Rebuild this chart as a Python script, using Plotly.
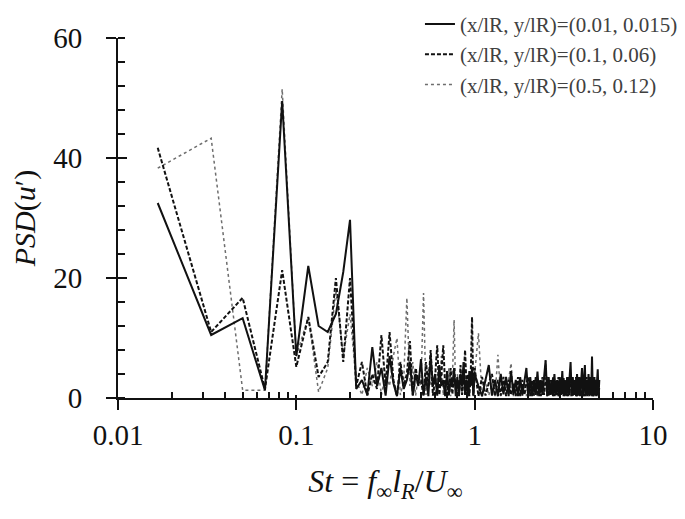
import plotly.graph_objects as go

# Strouhal number bins (St = f * lR / U)
st = [
    0.0167, 0.0333, 0.05, 0.0667, 0.0833, 0.1, 0.1167, 0.1333, 0.15, 0.1667,
    0.1833, 0.2, 0.2167, 0.2333, 0.25, 0.2667, 0.2833, 0.3, 0.3167, 0.3333,
    0.35, 0.3667, 0.3833, 0.4, 0.4167, 0.4333, 0.45, 0.4667, 0.4833, 0.5,
    0.5167, 0.5333, 0.55, 0.5667, 0.5833, 0.6, 0.6167, 0.6333, 0.65, 0.6667,
    0.6833, 0.7, 0.7167, 0.7333, 0.75, 0.7667, 0.7833, 0.8, 0.8167, 0.8333,
    0.85, 0.8667, 0.8833, 0.9, 0.9167, 0.9333, 0.95, 0.9667, 0.9833, 1.0,
    1.05, 1.1, 1.15, 1.2, 1.25, 1.3, 1.35, 1.4, 1.45, 1.5,
    1.55, 1.6, 1.65, 1.7, 1.75, 1.8, 1.85, 1.9, 1.95, 2.0,
    2.05, 2.1, 2.15, 2.2, 2.25, 2.3, 2.35, 2.4, 2.45, 2.5,
    2.55, 2.6, 2.65, 2.7, 2.75, 2.8, 2.85, 2.9, 2.95, 3.0,
    3.05, 3.1, 3.15, 3.2, 3.25, 3.3, 3.35, 3.4, 3.45, 3.5,
    3.55, 3.6, 3.65, 3.7, 3.75, 3.8, 3.85, 3.9, 3.95, 4.0,
    4.05, 4.1, 4.15, 4.2, 4.25, 4.3, 4.35, 4.4, 4.45, 4.5,
    4.55, 4.6, 4.65, 4.7, 4.75, 4.8, 4.85, 4.9, 4.95, 5.0,
]

# PSD(u') at (x/lR, y/lR) = (0.01, 0.015)
psd_a = [
    32.5, 10.5, 13.3, 1.3, 49.5, 7, 22, 12, 11, 14,
    21, 29.7, 1.5, 3, 0.5, 8.5, 2, 5, 0.4, 7,
    2.5, 0.3, 5, 1.5, 3, 6, 0.4, 4, 2, 6.5,
    0.5, 3.5, 0.3, 7, 2, 4, 0.4, 5.5, 2, 3,
    0.3, 4.5, 0.6, 3, 2, 5, 0.3, 3.5, 0.6, 4,
    2, 6, 0.5, 3, 0.3, 4.5, 2, 5, 0.4, 4,
    2, 0.3, 3, 5.5, 0.4, 3, 0.3, 4, 0.6, 3.5,
    0.3, 4.5, 0.5, 3, 0.3, 3.5, 0.4, 3, 5, 0.3,
    3.5, 0.3, 3, 0.5, 4.4, 0.3, 3, 0.5, 3.5, 6.3,
    0.3, 3.5, 0.5, 3, 0.3, 4, 0.5, 3, 0.3, 3.5,
    0.5, 4.5, 0.3, 3, 0.5, 3.5, 0.3, 3, 6, 0.3,
    3.5, 0.5, 3, 0.3, 4, 0.5, 3.5, 0.3, 3, 5,
    0.3, 3.5, 5.5, 0.3, 3, 0.5, 4, 0.3, 3.5, 0.5,
    6.9, 0.3, 3.5, 0.5, 3, 0.3, 3.5, 4.8, 0.5, 3,
]

# PSD(u') at (x/lR, y/lR) = (0.1, 0.06)
psd_b = [
    41.7, 11, 16.7, 1.5, 21.3, 5.2, 13.5, 3.5, 6, 20,
    6, 20, 2, 6, 0.4, 4, 1.5, 10.5, 2, 11,
    3, 0.3, 6, 2, 4, 9.5, 0.5, 5, 2.5, 3,
    0.3, 6, 2, 8, 0.4, 3.5, 8.8, 0.5, 4, 8.8,
    2, 3, 0.3, 5, 0.6, 4, 2, 3, 0.3, 5.5,
    0.5, 3, 8, 2, 4, 0.3, 3.5, 13.5, 0.5, 5,
    0.3, 3.5, 0.4, 2.5, 4, 0.3, 3, 0.4, 3.5, 0.3,
    3, 0.5, 2.5, 0.3, 3.5, 0.3, 3, 0.5, 2.5, 3.5,
    0.3, 3, 0.4, 3.5, 0.3, 3, 0.3, 3.5, 0.5, 3,
    3.5, 0.3, 3, 0.5, 3.5, 0.3, 3, 0.5, 3.5, 0.3,
    3, 0.5, 3.5, 0.3, 3, 0.3, 3.5, 0.5, 3, 3.5,
    0.3, 3, 0.5, 3.5, 0.3, 3, 0.3, 3.5, 0.5, 3,
    3.5, 0.3, 3, 0.5, 3.5, 0.3, 3, 0.5, 3, 3.5,
    0.3, 3, 0.3, 3.5, 0.5, 3, 0.3, 3.5, 0.3, 2,
]

# PSD(u') at (x/lR, y/lR) = (0.5, 0.12)
psd_c = [
    38.3, 43.3, 1.3, 1.3, 51.5, 7, 13.5, 1, 5, 18,
    7, 14, 3, 0.5, 5, 2, 6, 0.5, 4, 2,
    7, 10, 0.5, 3, 16.7, 2, 6, 0.4, 4, 2,
    17.5, 0.5, 5, 2, 3, 0.3, 4, 2.5, 7, 0.4,
    3, 0.5, 5, 0.3, 3, 13, 0.5, 4, 2, 3,
    0.3, 6, 2, 3.5, 0.4, 4, 2, 3, 0.3, 4,
    10.8, 0.3, 3, 0.4, 2.5, 0.3, 7.2, 0.3, 2.5, 0.5,
    3, 5.8, 0.3, 2.5, 0.4, 3, 0.5, 2.5, 0.3, 3,
    0.3, 2.5, 0.5, 3, 0.3, 2.5, 0.4, 3, 0.5, 6.3,
    0.3, 2.5, 0.4, 3, 0.5, 2.5, 0.3, 3, 0.3, 2.5,
    0.5, 3, 0.3, 2.5, 0.4, 3, 0.5, 2.5, 0.3, 3,
    0.3, 2.5, 0.5, 3, 0.3, 2.5, 0.4, 3, 0.5, 2.5,
    0.3, 3, 0.3, 2.5, 0.5, 3, 0.3, 2.5, 0.4, 3,
    0.5, 2.5, 0.3, 3, 0.3, 2.5, 0.5, 3, 0.3, 2.5,
]

series_names = [
    "(x/lR, y/lR)=(0.01, 0.015)",
    "(x/lR, y/lR)=(0.1, 0.06)",
    "(x/lR, y/lR)=(0.5, 0.12)",
]

x_major = [0.01, 0.1, 1, 10]
x_major_text = ["0.01", "0.1", "1", "10"]
x_minor = [0.02, 0.03, 0.04, 0.05, 0.06, 0.07, 0.08, 0.09,
           0.2, 0.3, 0.4, 0.5, 0.6, 0.7, 0.8, 0.9,
           2, 3, 4, 5, 6, 7, 8, 9]
y_major = [0, 20, 40, 60]

SERIF = "Liberation Serif, Times New Roman, serif"
INK = "#111111"

fig = go.Figure()

# drawn back to front: dotted, dashed, solid (legend order reversed below)
fig.add_trace(go.Scatter(
    x=st, y=psd_c, name=series_names[2], mode="lines",
    line=dict(color="#6e6e6e", width=1.5, dash="dot"),
))
fig.add_trace(go.Scatter(
    x=st, y=psd_b, name=series_names[1], mode="lines",
    line=dict(color=INK, width=2, dash="4px,2px"),
))
fig.add_trace(go.Scatter(
    x=st, y=psd_a, name=series_names[0], mode="lines",
    line=dict(color=INK, width=2),
))
# empty trace so the overlay axes (inner half of crossing ticks) get drawn
fig.add_trace(go.Scatter(x=[], y=[], xaxis="x2", yaxis="y2", showlegend=False))

# page body has an 8px margin, so the figure is 8px smaller than the window
fig.update_layout(
    width=677,
    height=511,
    margin=dict(l=110, r=32, t=30, b=121, autoexpand=False),
    paper_bgcolor="white",
    plot_bgcolor="white",
    font=dict(family=SERIF, color=INK),
    legend=dict(
        x=1.056, y=1.095, xanchor="right", yanchor="top",
        bgcolor="rgba(0,0,0,0)", traceorder="reversed",
        font=dict(family=SERIF, size=21, color="#404040"),
        tracegroupgap=0,
    ),
    xaxis=dict(
        type="log", range=[-2, 1],
        tickvals=x_major, ticktext=x_major_text,
        ticks="outside", ticklen=10, tickwidth=2, tickcolor=INK,
        minor=dict(tickvals=x_minor, ticks="inside", ticklen=6,
                   tickwidth=1.5, tickcolor=INK),
        showline=True, linecolor=INK, linewidth=2,
        showgrid=False, zeroline=False,
        tickfont=dict(size=29),
        ticklabelstandoff=0,
        title=dict(
            text="<i>St</i> = <i>f</i><sub>∞</sub><i>l</i><sub><i>R</i></sub>/<i>U</i><sub>∞</sub>",
            font=dict(size=32), standoff=20,
        ),
    ),
    yaxis=dict(
        range=[0, 60], tickvals=y_major,
        ticks="outside", ticklen=10, tickwidth=2, tickcolor=INK,
        minor=dict(dtick=4, ticks="inside", ticklen=7,
                   tickwidth=1.5, tickcolor=INK),
        showline=True, linecolor=INK, linewidth=2,
        showgrid=False, zeroline=False,
        tickfont=dict(size=29),
        ticklabelstandoff=18,
        title=dict(text="<i>PSD</i>(<i>u</i>′)", font=dict(size=30), standoff=21),
    ),
    xaxis2=dict(
        type="log", range=[-2, 1], overlaying="x", anchor="y2",
        tickvals=x_major, ticks="inside", ticklen=3, tickwidth=2,
        tickcolor=INK, showticklabels=False, showline=False,
        showgrid=False, zeroline=False,
    ),
    yaxis2=dict(
        range=[0, 60], overlaying="y", anchor="x2",
        tickvals=y_major, ticks="inside", ticklen=9, tickwidth=2,
        tickcolor=INK, showticklabels=False, showline=False,
        showgrid=False, zeroline=False,
    ),
)

fig.write_html("out.html")
